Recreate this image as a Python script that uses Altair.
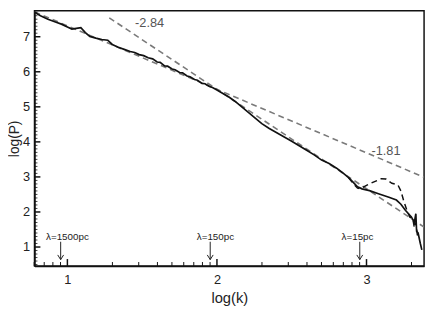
import altair as alt
import pandas as pd

# ---- data ----
k_solid = [0.78, 0.82, 0.87, 0.92, 0.96, 1.00, 1.03, 1.06, 1.09, 1.12, 1.15, 1.19, 1.23, 1.27,
           1.30, 1.34, 1.38, 1.42, 1.45, 1.48, 1.51, 1.54, 1.57, 1.60, 1.62, 1.65, 1.67, 1.70,
           1.72, 1.75, 1.77, 1.80, 1.82, 1.85, 1.87, 1.90, 1.92, 1.95, 1.97, 2.00, 2.04, 2.08,
           2.12, 2.16, 2.20, 2.25, 2.30, 2.35, 2.40, 2.45, 2.50, 2.55, 2.60, 2.65, 2.70, 2.75,
           2.80, 2.84, 2.88, 2.91, 2.94, 2.97, 3.02, 3.08, 3.15, 3.20, 3.23, 3.26, 3.30, 3.32,
           3.33, 3.335, 3.345, 3.36, 3.37]
p_solid = [7.70, 7.60, 7.50, 7.42, 7.36, 7.28, 7.22, 7.24, 7.26, 7.12, 7.01, 6.96, 6.92, 6.90,
           6.78, 6.70, 6.64, 6.58, 6.55, 6.49, 6.46, 6.40, 6.37, 6.28, 6.27, 6.17, 6.16, 6.08,
           6.06, 5.98, 5.97, 5.88, 5.86, 5.78, 5.76, 5.67, 5.66, 5.58, 5.55, 5.48, 5.38, 5.28,
           5.16, 5.02, 4.88, 4.70, 4.52, 4.38, 4.26, 4.14, 4.02, 3.89, 3.76, 3.63, 3.48, 3.38,
           3.25, 3.12, 2.98, 2.85, 2.72, 2.66, 2.61, 2.52, 2.42, 2.34, 2.22, 2.05, 1.86, 1.70,
           1.95, 1.45, 1.40, 1.10, 0.92]

k_dash = [2.88, 2.91, 2.94, 2.96, 3.00, 3.05, 3.10, 3.13, 3.17, 3.21, 3.23, 3.25, 3.27, 3.29,
          3.31, 3.32, 3.33, 3.34, 3.35]
p_dash = [2.98, 2.82, 2.68, 2.66, 2.76, 2.86, 2.95, 2.94, 2.82, 2.77, 2.60, 2.30, 2.05, 1.85,
          1.80, 1.55, 1.70, 1.35, 1.25]

fit1_k = [0.78, 3.385]
fit1_p = [7.71, 2.99]
fit2_k = [1.28, 3.385]
fit2_p = [7.54, 1.57]

slope_labels = ["-2.84", "-1.81"]
slope_k = [1.55, 3.13]
slope_p = [7.40, 3.74]

lam_labels = ["λ=1500pc", "λ=150pc", "λ=15pc"]
lam_text_k = [1.00, 1.99, 2.94]
lam_arrow_k = [0.955, 1.955, 2.955]
lam_text_p = [1.29, 1.29, 1.29]
arrow_top = [1.15, 1.15, 1.15]
arrow_tip = [0.64, 0.64, 0.64]

x_major = [1, 2, 3]
x_minor = [0.778, 0.845, 0.903, 0.954,
           1.301, 1.477, 1.602, 1.699, 1.778, 1.845, 1.903, 1.954,
           2.301, 2.477, 2.602, 2.699, 2.778, 2.845, 2.903, 2.954, 3.301]
y_major = [1, 2, 3, 4, 5, 6, 7]
y_minor = [round(0.5 + 0.1 * i, 1) for i in range(73)]
y_minor = [v for v in y_minor if abs(v - round(v)) > 1e-6]

XDOM = [0.78, 3.385]
YDOM = [0.46, 7.74]
W, H = 397, 260
FONT = "Liberation Sans"

xs = alt.Scale(domain=XDOM, nice=False, zero=False)
ys = alt.Scale(domain=YDOM, nice=False, zero=False)

solid = pd.DataFrame({"k": k_solid, "p": p_solid, "o": range(len(k_solid))})
dash = pd.DataFrame({"k": k_dash, "p": p_dash, "o": range(len(k_dash))})
fit1 = pd.DataFrame({"k": fit1_k, "p": fit1_p})
fit2 = pd.DataFrame({"k": fit2_k, "p": fit2_p})

base_x = alt.X("k:Q", scale=xs,
               axis=alt.Axis(title="log(k)", values=x_major, format="d", ticks=False,
                             grid=False, labelPadding=8, labelFontSize=13, labelFont=FONT,
                             labelColor="#222", titleFont=FONT, titleFontSize=15,
                             titleFontWeight="normal", titleColor="#222", titlePadding=4,
                             domainColor="#111", domainWidth=1.5))
base_y = alt.Y("p:Q", scale=ys,
               axis=alt.Axis(title="log(P)", values=y_major, format="d", ticks=False,
                             grid=False, labelPadding=5, labelFontSize=13, labelFont=FONT,
                             labelColor="#222", titleFont=FONT, titleFontSize=14,
                             titleFontWeight="normal", titleColor="#222", titlePadding=1,
                             domainColor="#111", domainWidth=1.5))

fitl1 = alt.Chart(fit1).mark_line(color="#7a7a7a", strokeWidth=1.6, strokeDash=[6, 4], clip=True).encode(
    x=base_x, y=base_y)
fitl2 = alt.Chart(fit2).mark_line(color="#7a7a7a", strokeWidth=1.6, strokeDash=[6, 4], clip=True).encode(
    x=alt.X("k:Q", scale=xs), y=alt.Y("p:Q", scale=ys))
dline = alt.Chart(dash).mark_line(color="#111", strokeWidth=1.5, strokeDash=[6, 4], clip=True).encode(
    x=alt.X("k:Q", scale=xs), y=alt.Y("p:Q", scale=ys), order="o:Q")
sline = alt.Chart(solid).mark_line(color="#111", strokeWidth=1.7, clip=True).encode(
    x=alt.X("k:Q", scale=xs), y=alt.Y("p:Q", scale=ys), order="o:Q")

slope_df = pd.DataFrame({"k": slope_k, "p": slope_p, "t": slope_labels})
slopes = alt.Chart(slope_df).mark_text(font=FONT, fontSize=13, color="#555").encode(
    x=alt.X("k:Q", scale=xs), y=alt.Y("p:Q", scale=ys), text="t:N")

lam_df = pd.DataFrame({"k": lam_text_k, "p": lam_text_p, "t": lam_labels})
lam_text = alt.Chart(lam_df).mark_text(font=FONT, fontSize=10, color="#222").encode(
    x=alt.X("k:Q", scale=xs), y=alt.Y("p:Q", scale=ys), text="t:N")

arr_df = pd.DataFrame({"k": lam_arrow_k, "top": arrow_top, "tip": arrow_tip})
shafts = alt.Chart(arr_df).mark_rule(color="#222", strokeWidth=1).encode(
    x=alt.X("k:Q", scale=xs), y=alt.Y("top:Q", scale=ys), y2="tip:Q")
heads = alt.Chart(arr_df).mark_point(shape="M -1 -1.6 L 0 0 L 1 -1.6", filled=False,
                                     color="#222", strokeWidth=1, size=36, opacity=1).encode(
    x=alt.X("k:Q", scale=xs), y=alt.Y("tip:Q", scale=ys))

xmaj = alt.Chart(pd.DataFrame({"k": x_major})).mark_rule(color="#111", strokeWidth=1.5).encode(
    x=alt.X("k:Q", scale=xs), y=alt.value(H), y2=alt.value(H - 7))
xmin = alt.Chart(pd.DataFrame({"k": x_minor})).mark_rule(color="#111", strokeWidth=1).encode(
    x=alt.X("k:Q", scale=xs), y=alt.value(H), y2=alt.value(H - 4))
ymaj = alt.Chart(pd.DataFrame({"p": y_major})).mark_rule(color="#111", strokeWidth=1.5).encode(
    y=alt.Y("p:Q", scale=ys), x=alt.value(0), x2=alt.value(6))
ymin = alt.Chart(pd.DataFrame({"p": y_minor})).mark_rule(color="#111", strokeWidth=0.8).encode(
    y=alt.Y("p:Q", scale=ys), x=alt.value(0), x2=alt.value(3))

chart = alt.layer(fitl1, fitl2, dline, sline, slopes, lam_text, shafts, heads,
                  xmaj, xmin, ymaj, ymin).properties(
    width=W, height=H,
    autosize=alt.AutoSizeParams(type="none"),
    padding={"left": 27, "top": 0, "right": 4, "bottom": 40},
    background="white",
).configure_view(stroke="#111", strokeWidth=1.5)

chart.save("out.html", embed_options={"renderer": "svg", "actions": False})
